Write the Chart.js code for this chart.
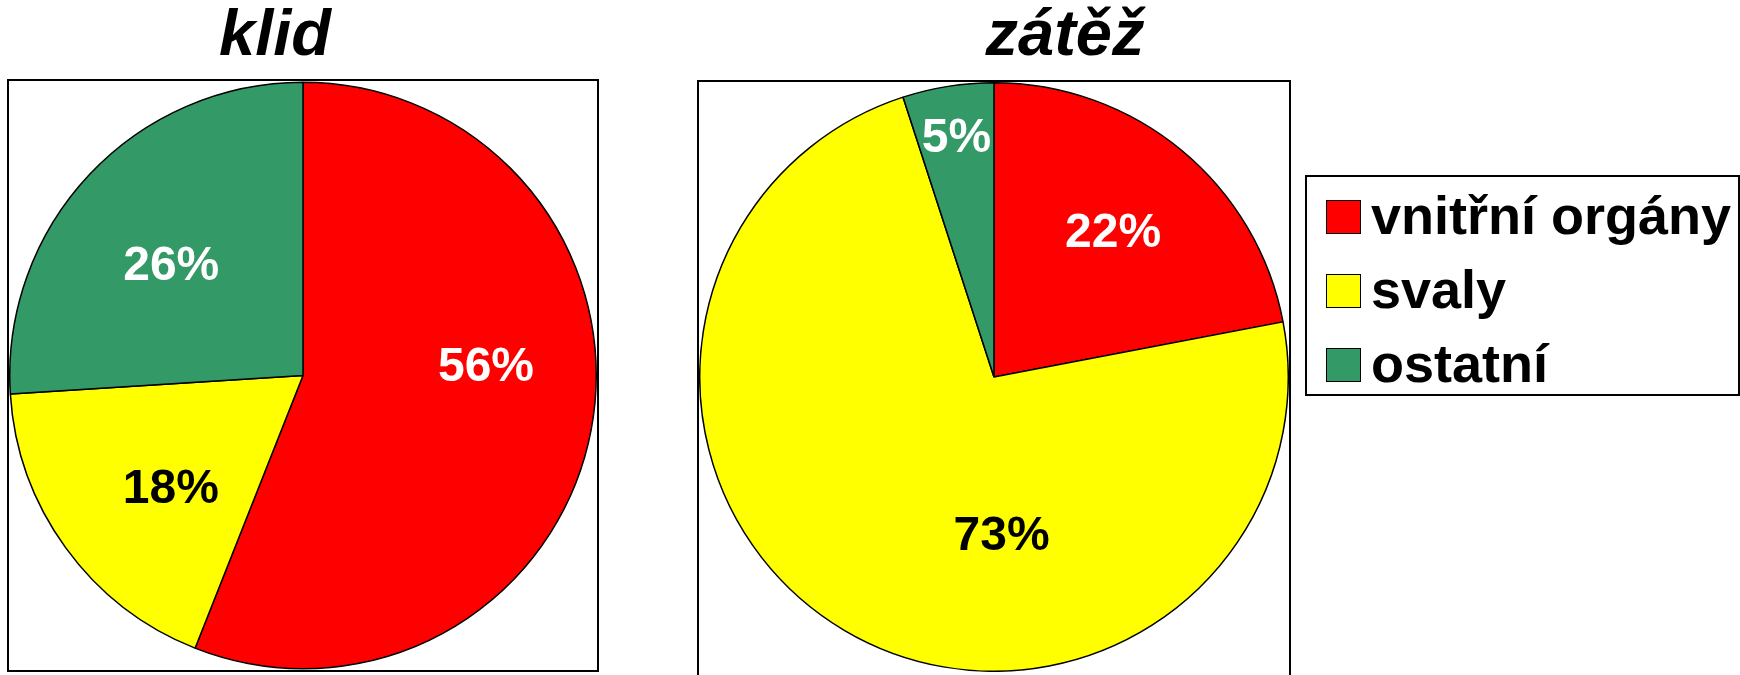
<!DOCTYPE html>
<html lang="cs">
<head>
<meta charset="utf-8">
<title>klid / zátěž</title>
<script src="https://cdn.jsdelivr.net/npm/chart.js@4.4.1/dist/chart.umd.min.js"></script>
<style>
    html, body { margin: 0; padding: 0; background: #fff; }
    body {
        width: 1740px; height: 675px; position: relative; overflow: hidden;
        font-family: "Liberation Sans", Arial, sans-serif; color: #000;
    }
    .title {
        position: absolute; top: 0px; width: 400px; text-align: center;
        font-size: 65px; line-height: 65px; font-weight: bold; font-style: italic;
    }
    .frame { position: absolute; box-sizing: border-box; border: 2px solid #000; background: #fff; }
    .plot { position: relative; }
    #legend {
        position: absolute; left: 1305px; top: 175px; width: 435px; height: 221px;
        box-sizing: border-box; border: 2px solid #000; padding-top: 3px; overflow: hidden;
    }
    .item { display: flex; align-items: center; height: 74px; }
    .swatch { width: 35px; height: 34px; box-sizing: border-box; border: 1px solid #000; margin-left: 19px; }
    .item span { margin-left: 10px; font-size: 54px; line-height: 54px; font-weight: bold; position: relative; top: -2px; white-space: nowrap; }
</style>
</head>
<body>

<div class="title" style="left: 75px;">klid</div>
<div class="title" style="left: 865px;">zátěž</div>

<div class="frame" style="left: 7px; top: 79px; width: 592px; height: 593px;">
    <div class="plot" style="width: 588px; height: 589px;"><canvas id="klidChart"></canvas></div>
</div>

<div class="frame" style="left: 697px; top: 80px; width: 594px; height: 640px;">
    <div class="plot" style="width: 590px; height: 590px;"><canvas id="zatezChart"></canvas></div>
</div>

<div id="legend"></div>

<script>
// --- data ---
const categories = ['vnitřní orgány', 'svaly', 'ostatní'];
const klidValues = [56, 18, 26];
const zatezValues = [22, 73, 5];
const sliceColors = ['#ff0000', '#ffff00', '#339966'];
const labelColors = ['#ffffff', '#000000', '#ffffff'];

// percentage labels inside the slices, placed along each arc
// place = [fraction of the slice angle, fraction of the radius]
const sliceLabels = {
    id: 'sliceLabels',
    afterDatasetsDraw(chart, args, opts) {
        const ctx = chart.ctx;
        const meta = chart.getDatasetMeta(0);
        const values = chart.data.datasets[0].data;
        ctx.save();
        ctx.font = 'bold 48px "Liberation Sans", Arial, sans-serif';
        ctx.textAlign = 'center';
        ctx.textBaseline = 'middle';
        meta.data.forEach(function (arc, i) {
            const p = arc.getProps(['x', 'y', 'startAngle', 'endAngle', 'outerRadius'], true);
            const place = opts.place[i];
            const a = p.startAngle + (p.endAngle - p.startAngle) * place[0];
            const r = p.outerRadius * place[1];
            ctx.fillStyle = labelColors[i];
            ctx.fillText(values[i] + '%', p.x + Math.cos(a) * r, p.y + Math.sin(a) * r + 3);
        });
        ctx.restore();
    }
};

function makePie(id, values, place) {
    return new Chart(document.getElementById(id), {
        type: 'pie',
        data: {
            labels: categories,
            datasets: [{
                data: values,
                backgroundColor: sliceColors,
                borderColor: '#000',
                borderWidth: 1.5,
                hoverOffset: 0
            }]
        },
        options: {
            responsive: true,
            maintainAspectRatio: false,
            animation: false,
            events: [],
            layout: { padding: 0 },
            plugins: {
                legend: { display: false },
                tooltip: { enabled: false },
                title: { display: false },
                sliceLabels: { place: place }
            }
        },
        plugins: [sliceLabels]
    });
}

makePie('klidChart', klidValues, [[0.43, 0.625], [0.435, 0.59], [0.47, 0.59]]);
makePie('zatezChart', zatezValues, [[0.495, 0.64], [0.373, 0.535], [0.51, 0.83]]);

// --- legend (shared by both pies) ---
const legend = document.getElementById('legend');
categories.forEach(function (name, i) {
    const row = document.createElement('div');
    row.className = 'item';
    const sw = document.createElement('div');
    sw.className = 'swatch';
    sw.style.background = sliceColors[i];
    const txt = document.createElement('span');
    txt.textContent = name;
    row.appendChild(sw);
    row.appendChild(txt);
    legend.appendChild(row);
});
</script>
</body>
</html>
